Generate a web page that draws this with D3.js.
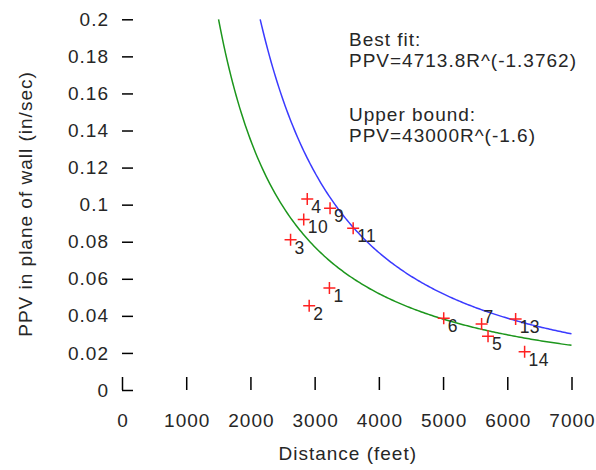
<!DOCTYPE html>
<html>
<head>
<meta charset="utf-8">
<script src="https://cdn.jsdelivr.net/npm/d3@7"></script>
<style>
html,body{margin:0;padding:0;background:#fff;}
svg{display:block;}
text{font-family:"Liberation Sans",Arial,sans-serif;fill:#262626;letter-spacing:1px;}
</style>
</head>
<body>
<svg id="chart" width="596" height="470"></svg>
<script>
// ---- data ----
const pointIds   = [1, 2, 3, 4, 5, 6, 7, 9, 10, 11, 13, 14];
const distances  = [3230, 2915, 2625, 2885, 5700, 5010, 5600, 3240, 2830, 3600, 6130, 6270];
const ppvValues  = [0.055, 0.0455, 0.081, 0.103, 0.029, 0.0387, 0.0356, 0.098, 0.092, 0.0873, 0.0383, 0.0207];
const xTicks     = [0, 1000, 2000, 3000, 4000, 5000, 6000, 7000];
const yTicks     = [0, 0.02, 0.04, 0.06, 0.08, 0.1, 0.12, 0.14, 0.16, 0.18, 0.2];
const bestFitCoef    = [4713.8, -1.3762];
const upperBoundCoef = [43000, -1.6];
const noteLines  = ["Best fit:", "PPV=4713.8R^(-1.3762)", "", "Upper bound:", "PPV=43000R^(-1.6)"];

// ---- layout ----
const svg = d3.select("#chart");
const x = d3.scaleLinear().domain([0, 7000]).range([122, 571.5]);
const y = d3.scaleLinear().domain([0, 0.2]).range([390, 19.3]);
const fs = 19;
const ff = "Liberation Sans";

// y ticks (pointing right, inward)
const yAx = svg.append("g").attr("transform", `translate(${x(0)},0)`)
  .call(d3.axisLeft(y).tickValues(yTicks).tickSize(-11).tickPadding(13)
        .tickFormat(d => d === 0 ? "0" : String(+d.toFixed(2))));
yAx.select(".domain").remove();
yAx.selectAll(".tick line").attr("stroke", "#000").attr("stroke-width", 1.5);
yAx.selectAll(".tick text").attr("font-size", fs).attr("font-family", ff).attr("fill", "#262626");

// x ticks (pointing up, inward)
const xAx = svg.append("g").attr("transform", `translate(0,${y(0)})`)
  .call(d3.axisBottom(x).tickValues(xTicks).tickSize(-13).tickPadding(24).tickFormat(d3.format("d")));
xAx.select(".domain").remove();
xAx.selectAll(".tick line").attr("stroke", "#000").attr("stroke-width", 1.5);
xAx.selectAll(".tick text").attr("font-size", fs).attr("font-family", ff).attr("fill", "#262626")
  .attr("dx", "0.5");

// axis titles
svg.append("text").attr("x", (x(0) + x(7000)) / 2 + 1).attr("y", 460)
  .attr("text-anchor", "middle").attr("font-size", fs).text("Distance (feet)");
svg.append("text").attr("transform", `translate(32,${204}) rotate(-90)`)
  .attr("text-anchor", "middle").attr("font-size", fs).text("PPV in plane of wall (in/sec)");

// curves
function curve(coef) {
  const [a, b] = coef;
  const xStart = Math.pow(0.2 / a, 1 / b);
  return d3.range(0, 201).map(i => {
    const r = xStart + (7000 - xStart) * i / 200;
    return [r, a * Math.pow(r, b)];
  });
}
const line = d3.line().x(d => x(d[0])).y(d => y(d[1]));
svg.append("path").attr("d", line(curve(bestFitCoef)))
  .attr("fill", "none").attr("stroke", "#1c961c").attr("stroke-width", 1.5);
svg.append("path").attr("d", line(curve(upperBoundCoef)))
  .attr("fill", "none").attr("stroke", "#3a3aff").attr("stroke-width", 1.5);

// points
const pts = pointIds.map((id, i) => ({ id, d: distances[i], v: ppvValues[i] }));
const m = 6;
const g = svg.append("g");
pts.forEach(p => {
  const cx = x(p.d), cy = y(p.v);
  g.append("path").attr("d", `M${cx - m},${cy}H${cx + m}M${cx},${cy - m}V${cy + m}`)
    .attr("stroke", "#ff2020").attr("stroke-width", 1.5).attr("fill", "none");
});
const labelOffset = id => id === 7 ? [2, -1] : [4, 14];
pts.forEach(p => {
  const [dx, dy] = labelOffset(p.id);
  svg.append("text").attr("x", x(p.d) + dx).attr("y", y(p.v) + dy)
    .attr("font-size", 17.5).style("letter-spacing", "0.5px").text(p.id);
});

// annotation
const baseY = [46, 67, 0, 121, 142];
noteLines.forEach((t, i) => {
  if (!t) return;
  svg.append("text").attr("x", 349).attr("y", baseY[i]).attr("font-size", fs).text(t);
});
</script>
</body>
</html>
